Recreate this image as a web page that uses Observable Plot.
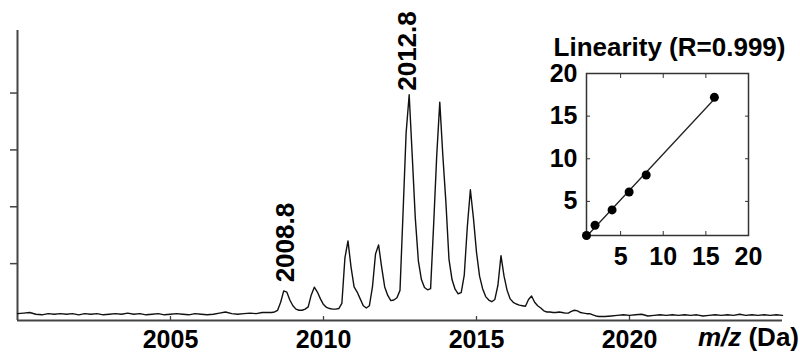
<!DOCTYPE html>
<html><head><meta charset="utf-8">
<script src="https://cdn.jsdelivr.net/npm/d3@7"></script>
<script src="https://cdn.jsdelivr.net/npm/@observablehq/plot@0.6"></script>
<style>
html,body{margin:0;padding:0;background:#fff;}
#wrap{position:relative;width:800px;height:356px;overflow:hidden;}
#inset{position:absolute;left:530px;top:20px;}
svg{background:transparent !important;}
</style></head><body>
<div id="wrap"><div id="main"></div><div id="inset"></div></div>
<script>
// ---- spectrum data (m/z in Da, relative intensity) ----
const mz = [
 2000.0,2000.2,2000.4,2000.6,2000.8, 2001.0,2001.2,2001.4,2001.6,2001.8,
 2002.0,2002.2,2002.4,2002.6,2002.8, 2003.0,2003.2,2003.4,2003.6,2003.8,
 2004.0,2004.2,2004.4,2004.6,2004.8, 2005.0,2005.2,2005.4,2005.6,2005.8,
 2006.0,2006.2,2006.4,2006.6,2006.8, 2007.0,2007.2,2007.4,2007.6,2007.8,
 2008.0,2008.2,
 2008.3,2008.4,2008.5,2008.6,2008.7,2008.8,2008.9,
 2009.0,2009.1,2009.2,2009.3,2009.4,2009.5,2009.6,2009.7,2009.8,2009.9,
 2010.0,2010.1,2010.2,2010.3,2010.4,2010.5,2010.6,2010.7,2010.8,2010.9,
 2011.0,2011.1,2011.2,2011.3,2011.4,2011.5,2011.6,2011.7,2011.8,2011.9,
 2012.0,2012.1,2012.2,2012.3,2012.4,2012.5,2012.6,2012.7,2012.8,2012.9,
 2013.0,2013.1,2013.2,2013.3,2013.4,2013.5,2013.6,2013.7,2013.8,2013.9,
 2014.0,2014.1,2014.2,2014.3,2014.4,2014.5,2014.6,2014.7,2014.8,2014.9,
 2015.0,2015.1,2015.2,2015.3,2015.4,2015.5,2015.6,2015.7,2015.8,2015.9,
 2016.0,2016.1,2016.2,2016.3,2016.4,2016.5,2016.6,2016.7,2016.8,2016.9,
 2017.0,2017.1,2017.2,2017.3,2017.4,2017.5,2017.6,2017.7,2017.8,2017.9,
 2018.0,2018.1,2018.2,2018.3,2018.4,2018.5,2018.6,2018.7,2018.8,2018.9,
 2019.0,
 2019.2,2019.4,2019.6,2019.8, 2020.0,2020.2,2020.4,2020.6,2020.8,
 2021.0,2021.2,2021.4,2021.6,2021.8, 2022.0,2022.2,2022.4,2022.6,2022.8,
 2023.0,2023.2,2023.4,2023.6,2023.8, 2024.0,2024.2,2024.4,2024.6,2024.8,
 2025.0
];
const intensity = [
 0.12,0.13,0.14,0.11,0.10, 0.12,0.11,0.12,0.11,0.12,
 0.10,0.12,0.11,0.12,0.10, 0.11,0.12,0.11,0.13,0.11,
 0.12,0.10,0.11,0.12,0.10, 0.11,0.12,0.11,0.10,0.12,
 0.11,0.10,0.11,0.13,0.15, 0.12,0.11,0.12,0.13,0.12,
 0.14,0.14,
 0.14,0.15,0.18,0.32,0.52,0.50,0.36,
 0.26,0.20,0.18,0.18,0.20,0.24,0.45,0.585,0.50,0.38,
 0.28,0.23,0.21,0.20,0.20,0.21,0.30,1.10,1.40,0.94,
 0.59,0.50,0.38,0.26,0.22,0.26,0.59,1.17,1.33,0.94,
 0.59,0.44,0.35,0.36,0.40,0.53,1.90,3.30,3.97,2.90,
 1.80,1.05,0.72,0.58,0.54,0.56,1.69,2.90,3.84,2.90,
 2.08,1.08,0.72,0.55,0.47,0.49,0.80,1.65,2.30,1.80,
 1.20,0.78,0.56,0.42,0.36,0.33,0.37,0.62,1.14,0.78,
 0.53,0.38,0.32,0.29,0.27,0.26,0.25,0.37,0.43,0.32,
 0.26,0.22,0.17,0.15,0.15,0.14,0.14,0.15,0.14,0.13,
 0.13,0.16,0.18,0.17,0.14,0.13,0.12,0.12,0.10,0.08,
 0.07,
 0.07,0.08,0.09,0.10, 0.09,0.10,0.11,0.08,0.09,
 0.10,0.09,0.10,0.09,0.10, 0.09,0.10,0.08,0.09,0.10,
 0.09,0.10,0.09,0.11,0.09, 0.10,0.09,0.10,0.09,0.10,
 0.09
];
const xDomain = [2000, 2025];
const yDomain = [0, 5.1];
const xTicks = [2005, 2010, 2015, 2020];
const yTicks = [1, 2, 3, 4];
const peakLabels = ["2008.8", "2012.8"];
const peakMz = [2008.8, 2012.8];
const peakIntensity = [0.53, 3.97];
const xLabelItalic = "m/z";
const xLabelRest = " (Da)";

// ---- inset data ----
const insetTitle = "Linearity (R=0.999)";
const insetX = [1, 2, 4, 6, 8, 16];
const insetY = [1, 2.2, 4.0, 6.1, 8.1, 17.2];
const insetDomain = [1, 20];
const insetTicks = [5, 10, 15, 20];
const insetInnerTicks = [5, 10, 15];

const FONT = "'Liberation Sans', Arial, Helvetica, sans-serif";
const spec = mz.map((m, i) => ({mz: m, v: intensity[i]}));
const peaks = peakLabels.map((t, i) => ({t, x: peakMz[i], y: peakIntensity[i]}));
const fmt = d => String(d);
const none = () => "";

const main = Plot.plot({
  width: 800, height: 356,
  marginLeft: 17, marginRight: 18, marginTop: 30, marginBottom: 36,
  x: {domain: xDomain, label: null},
  y: {domain: yDomain, label: null},
  style: {fontFamily: FONT, fontWeight: "bold", background: "transparent", color: "#000"},
  marks: [
    Plot.axisY({ticks: yTicks, tickSize: 7, tickFormat: none, label: null, stroke: "#444", strokeWidth: 1.5}),
    Plot.axisX({ticks: xTicks, tickSize: -4, tickFormat: none, label: null, stroke: "#444", strokeWidth: 1.3}),
    Plot.axisX({ticks: xTicks, tickSize: 0, tickPadding: 10, tickFormat: fmt, label: null, fontSize: 25, fontWeight: "bold", fill: "#000"}),
    Plot.ruleY([yDomain[0]], {stroke: "#444", strokeWidth: 2}),
    Plot.ruleX([xDomain[0]], {stroke: "#444", strokeWidth: 2}),
    Plot.line(spec, {x: "mz", y: "v", stroke: "#111", strokeWidth: 1.4}),
    Plot.text(peaks.slice(0, 1), {x: "x", y: "y", text: "t", rotate: -90, textAnchor: "start", lineAnchor: "middle", dy: -8, dx: -1, fontSize: 26, fontWeight: "bold", fill: "#000"}),
    Plot.text(peaks.slice(1), {x: "x", y: "y", text: "t", rotate: -90, textAnchor: "start", lineAnchor: "middle", dy: -4, dx: -2, fontSize: 26, fontWeight: "bold", fill: "#000"})
  ]
});
document.getElementById("main").appendChild(main);

// x-axis title with italic part
const t = d3.select(main).append("text")
  .attr("x", 799).attr("y", 346).attr("text-anchor", "end")
  .attr("font-size", 26).attr("font-weight", "bold").attr("font-family", FONT).attr("fill", "#000");
t.append("tspan").attr("font-style", "italic").text(xLabelItalic);
t.append("tspan").text(xLabelRest);

const insetData = insetX.map((x, i) => ({x, y: insetY[i]}));
const inset = Plot.plot({
  width: 265, height: 260,
  marginLeft: 56, marginRight: 47, marginTop: 53, marginBottom: 45,
  x: {domain: insetDomain, label: null},
  y: {domain: insetDomain, label: null},
  style: {fontFamily: FONT, fontWeight: "bold", background: "transparent", color: "#000"},
  marks: [
    Plot.frame({stroke: "#333", strokeWidth: 1.5}),
    Plot.axisX({ticks: insetTicks, tickSize: 0, tickPadding: 12, tickFormat: fmt, label: null, fontSize: 25, fontWeight: "bold", fill: "#000"}),
    Plot.axisY({ticks: insetTicks, tickSize: 0, tickPadding: 9, tickFormat: fmt, label: null, fontSize: 25, fontWeight: "bold", fill: "#000"}),
    Plot.axisX({anchor: "bottom", ticks: insetInnerTicks, tickSize: -4, tickFormat: none, label: null, stroke: "#333"}),
    Plot.axisX({anchor: "top", ticks: insetInnerTicks, tickSize: -4, tickFormat: none, label: null, stroke: "#333"}),
    Plot.axisY({anchor: "left", ticks: insetInnerTicks, tickSize: -4, tickFormat: none, label: null, stroke: "#333"}),
    Plot.axisY({anchor: "right", ticks: insetInnerTicks, tickSize: -4, tickFormat: none, label: null, stroke: "#333"}),
    Plot.linearRegressionY(insetData, {x: "x", y: "y", ci: 0, stroke: "#222", strokeWidth: 1.3}),
    Plot.dot(insetData, {x: "x", y: "y", r: 4.5, fill: "#000", stroke: "none"}),
    Plot.text([insetTitle], {frameAnchor: "top", lineAnchor: "bottom", dy: -18, dx: 2, fontSize: 26, fontWeight: "bold", fill: "#000"})
  ]
});
document.getElementById("inset").appendChild(inset);
</script>
</body></html>
